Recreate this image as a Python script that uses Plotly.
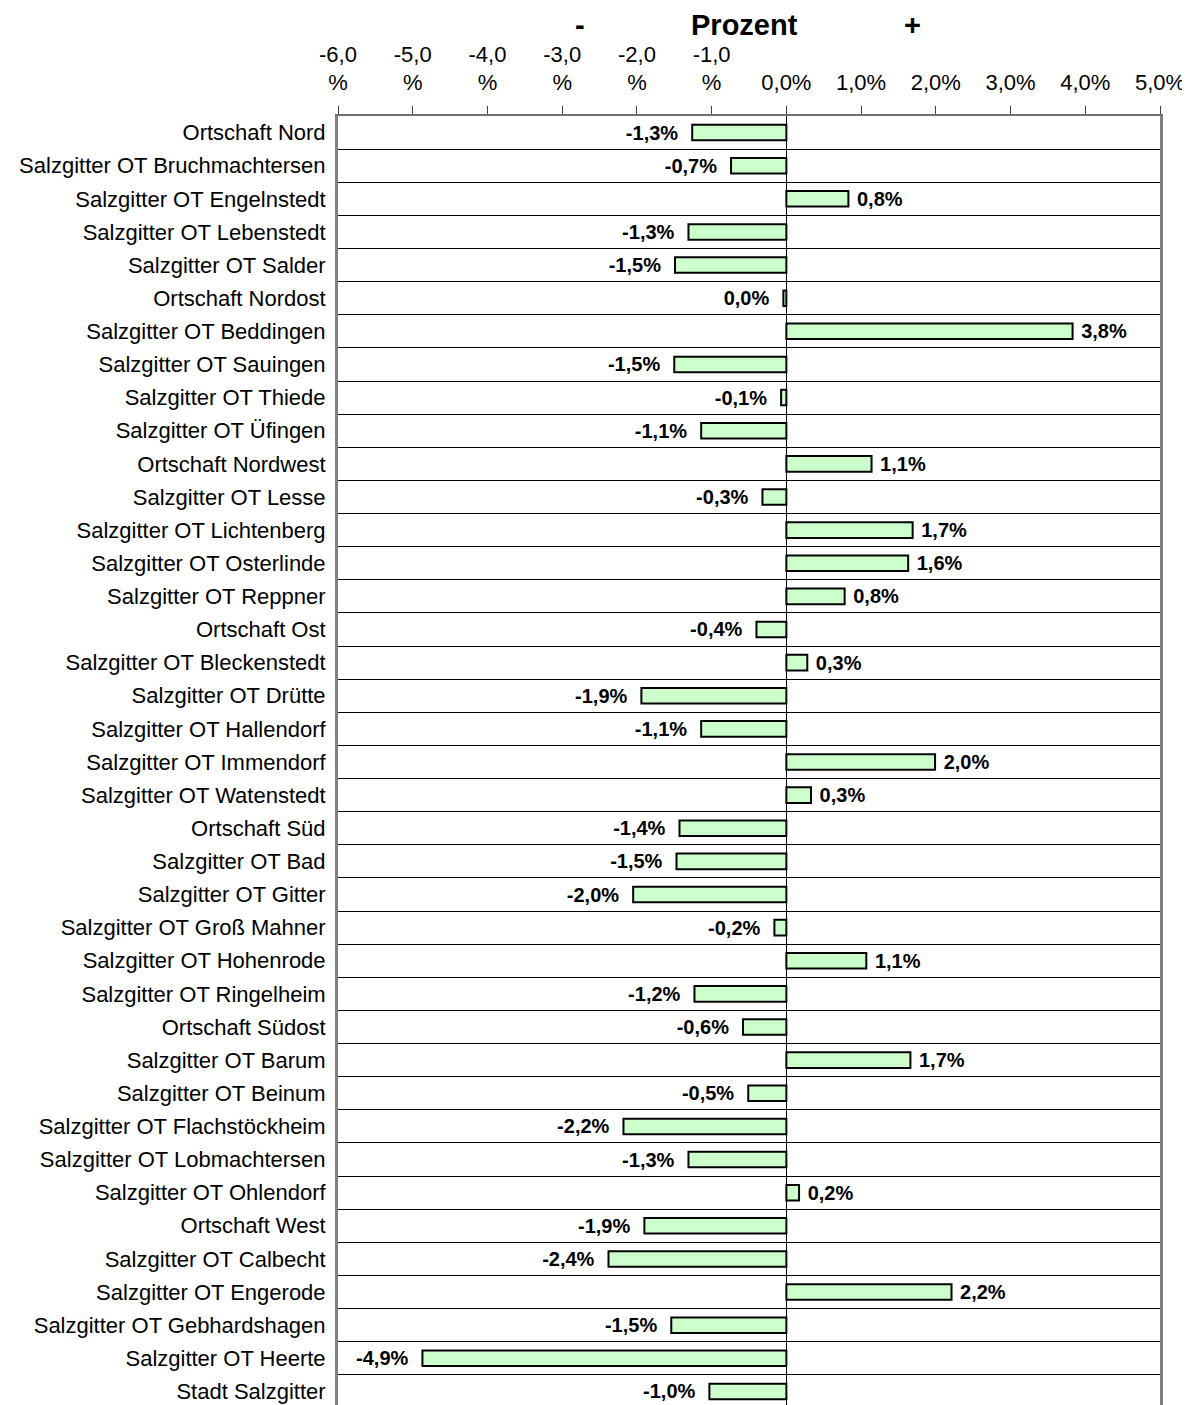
import plotly.graph_objects as go

# Ortsteile / Ortschaften (von oben nach unten)
orte = [
    "Ortschaft Nord", "Salzgitter OT Bruchmachtersen", "Salzgitter OT Engelnstedt",
    "Salzgitter OT Lebenstedt", "Salzgitter OT Salder", "Ortschaft Nordost",
    "Salzgitter OT Beddingen", "Salzgitter OT Sauingen", "Salzgitter OT Thiede",
    "Salzgitter OT Üfingen", "Ortschaft Nordwest", "Salzgitter OT Lesse",
    "Salzgitter OT Lichtenberg", "Salzgitter OT Osterlinde", "Salzgitter OT Reppner",
    "Ortschaft Ost", "Salzgitter OT Bleckenstedt", "Salzgitter OT Drütte",
    "Salzgitter OT Hallendorf", "Salzgitter OT Immendorf", "Salzgitter OT Watenstedt",
    "Ortschaft Süd", "Salzgitter OT Bad", "Salzgitter OT Gitter",
    "Salzgitter OT Groß Mahner", "Salzgitter OT Hohenrode", "Salzgitter OT Ringelheim",
    "Ortschaft Südost", "Salzgitter OT Barum", "Salzgitter OT Beinum",
    "Salzgitter OT Flachstöckheim", "Salzgitter OT Lobmachtersen", "Salzgitter OT Ohlendorf",
    "Ortschaft West", "Salzgitter OT Calbecht", "Salzgitter OT Engerode",
    "Salzgitter OT Gebhardshagen", "Salzgitter OT Heerte", "Stadt Salzgitter",
]

# Veränderung in Prozent
werte = [
    -1.26, -0.74, 0.83, -1.31, -1.49, -0.04, 3.83, -1.50, -0.07, -1.14,
    1.14, -0.32, 1.69, 1.63, 0.78, -0.40, 0.28, -1.94, -1.14, 1.99,
    0.33, -1.43, -1.47, -2.05, -0.16, 1.07, -1.23, -0.58, 1.66, -0.51,
    -2.18, -1.31, 0.17, -1.90, -2.38, 2.21, -1.54, -4.87, -1.03,
]

tick_werte = [-6, -5, -4, -3, -2, -1, 0, 1, 2, 3, 4, 5]
tick_texte = ["-6,0<br>%", "-5,0<br>%", "-4,0<br>%", "-3,0<br>%", "-2,0<br>%", "-1,0<br>%",
              "0,0%", "1,0%", "2,0%", "3,0%", "4,0%", "5,0%"]


def fmt(v):
    r = round(v, 1)
    if r == 0:
        r = 0.0
    s = ("%.1f%%" % r).replace(".", ",")
    # etwas Abstand zwischen Balken und Beschriftung
    return s + "  " if v < 0 else " " + s


labels = [fmt(v) for v in werte]

fig = go.Figure(go.Bar(
    x=werte, y=orte, orientation="h",
    marker=dict(color="#CCFFCC", line=dict(color="black", width=2)),
    width=0.47,
    text=labels, textposition="outside", cliponaxis=False, constraintext="none",
    textfont=dict(family="Liberation Sans", size=20, color="black", weight="bold"),
))

fig.update_layout(
    width=1190, height=1400,
    margin=dict(l=330, r=38, t=108, b=0),
    paper_bgcolor="white", plot_bgcolor="white",
    font=dict(family="Liberation Sans", size=22, color="black"),
    showlegend=False,
)

fig.update_xaxes(
    side="top", range=[-6, 5], tickvals=tick_werte, ticktext=tick_texte,
    ticks="outside", ticklen=8, tickcolor="#404040", tickwidth=1,
    showline=True, linecolor="#707070", linewidth=2,
    showgrid=False, zeroline=True, zerolinecolor="black", zerolinewidth=1,
    tickfont=dict(size=22), ticklabelstandoff=7,
)

fig.update_yaxes(
    autorange="reversed", type="category", tickson="boundaries",
    showgrid=True, gridcolor="black", gridwidth=1,
    showline=True, linecolor="#808080", linewidth=3, mirror=True,
    ticks="", ticklabelstandoff=5, tickfont=dict(size=22),
)

# Überschrift
for txt, xpos in [("<b>Prozent</b>", 0.495), ("<b>-</b>", 0.294), ("<b>+</b>", 0.6995)]:
    fig.add_annotation(x=xpos, y=1.0704, xref="paper", yref="paper", text=txt,
                       xanchor="center", yanchor="middle",
                       showarrow=False, font=dict(size=29))

fig.write_html("out.html")
